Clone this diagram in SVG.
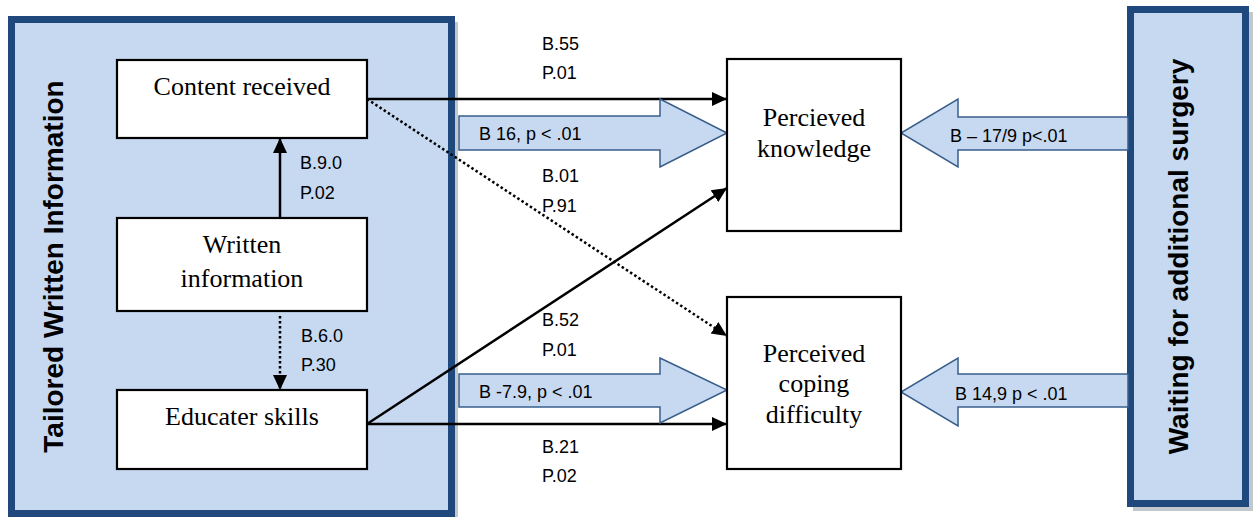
<svg xmlns="http://www.w3.org/2000/svg" width="1256" height="517" viewBox="0 0 1256 517">
<style>
.container{fill:#C6D9F1;stroke:#1F497D;stroke-width:7}
.shadow{fill:#C3C8CE}
.node{fill:#FFFFFF;stroke:#000000;stroke-width:2.2}
.ntext{font-family:"Liberation Serif","Times New Roman",serif;font-size:26px;fill:#000;text-anchor:middle}
.title{font-family:"Liberation Sans",Arial,sans-serif;font-size:28px;font-weight:bold;fill:#000;text-anchor:middle}
.lbl{font-family:"Liberation Sans",Arial,sans-serif;font-size:18px;fill:#000}
.solid{fill:none;stroke:#000;stroke-width:2.5}
.dotted{fill:none;stroke:#000;stroke-width:2.5;stroke-dasharray:2.5 2.5}
.block{fill:#C6D9F1;stroke:#385D8A;stroke-width:1.5}
</style>
<defs>
<marker id="ah" markerUnits="userSpaceOnUse" markerWidth="16" markerHeight="16" viewBox="0 0 16 16" refX="15" refY="8" orient="auto">
<path d="M0,1 L15,8 L0,15 Z" fill="#000"/>
</marker>
</defs>
<rect width="1256" height="517" fill="#FFFFFF"/>
<g id="tailored-written-information">
<rect class="shadow" x="455" y="22" width="3" height="495"/>
<rect class="container" x="11.5" y="19.5" width="440" height="494"/>
<text class="title" transform="translate(63,266.5) rotate(-90)">Tailored Written Information</text>
</g>
<g id="waiting-for-additional-surgery">
<rect class="shadow" x="1133" y="12" width="120" height="499"/>
<rect class="container" x="1130.5" y="9.5" width="115" height="494"/>
<text class="title" transform="translate(1188,256.5) rotate(-90)">Waiting for additional surgery</text>
</g>
<g id="connectors">
<path class="solid" d="M367,99 H727" marker-end="url(#ah)"/>
<path class="dotted" d="M367,99 L727,336" marker-end="url(#ah)"/>
<path class="solid" d="M367,424 L727,188" marker-end="url(#ah)"/>
<path class="solid" d="M367,424 H727" marker-end="url(#ah)"/>
<path class="solid" d="M280,218 V138" marker-end="url(#ah)"/>
<path class="dotted" d="M280,316 V390" marker-end="url(#ah)"/>
<path class="block" d="M459,116 H660 V99 L727,133 L660,167 V150 H459 Z"/>
<path class="block" d="M459,374 H660 V358 L727,390 L660,423 V407 H459 Z"/>
<path class="block" d="M1128,117 H958 V99 L901,133 L958,167 V150 H1128 Z"/>
<path class="block" d="M1128,374 H958 V358 L901,392 L958,426 V407 H1128 Z"/>
<text class="lbl" x="300" y="169">B.9.0</text>
<text class="lbl" x="300" y="199">P.02</text>
<text class="lbl" x="301" y="342">B.6.0</text>
<text class="lbl" x="301" y="371">P.30</text>
<text class="lbl" x="542" y="50">B.55</text>
<text class="lbl" x="542" y="79">P.01</text>
<text class="lbl" x="542" y="182">B.01</text>
<text class="lbl" x="542" y="212">P.91</text>
<text class="lbl" x="542" y="326">B.52</text>
<text class="lbl" x="542" y="356">P.01</text>
<text class="lbl" x="542" y="453">B.21</text>
<text class="lbl" x="542" y="482">P.02</text>
<text class="lbl" x="479" y="140">B 16, p &lt; .01</text>
<text class="lbl" x="479" y="398">B -7.9, p &lt; .01</text>
<text class="lbl" x="950" y="142">B – 17/9 p&lt;.01</text>
<text class="lbl" x="955" y="400">B 14,9 p &lt; .01</text>
</g>
<g id="content-received">
<rect class="node" x="117" y="60" width="250" height="78"/>
<text class="ntext" x="242" y="95">Content received</text>
</g>
<g id="written-information">
<rect class="node" x="117" y="218" width="250" height="93"/>
<text class="ntext" x="242" y="253">Written</text>
<text class="ntext" x="242" y="287">information</text>
</g>
<g id="educater-skills">
<rect class="node" x="117" y="390" width="250" height="79"/>
<text class="ntext" x="242" y="425">Educater skills</text>
</g>
<g id="percieved-knowledge">
<rect class="node" x="727" y="59" width="174" height="172"/>
<text class="ntext" x="814" y="126">Percieved</text>
<text class="ntext" x="814" y="157">knowledge</text>
</g>
<g id="perceived-coping-difficulty">
<rect class="node" x="727" y="297" width="174" height="172"/>
<text class="ntext" x="814" y="362">Perceived</text>
<text class="ntext" x="814" y="392">coping</text>
<text class="ntext" x="814" y="423">difficulty</text>
</g>
</svg>
